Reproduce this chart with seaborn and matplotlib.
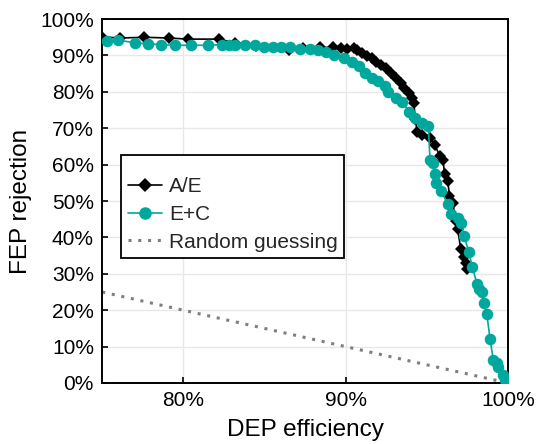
import matplotlib
matplotlib.use("Agg")
import matplotlib.pyplot as plt
from matplotlib.ticker import PercentFormatter, FixedLocator
from matplotlib.lines import Line2D
import seaborn as sns

# ---- data (percent) ----
ae_eff = [75.0, 76.1, 77.6, 79.1, 80.3, 82.2, 83.2, 84.5, 86.5, 87.4,
          88.4, 89.2, 89.7, 90.1, 90.5, 90.7, 91.0, 91.3, 91.6, 91.9,
          92.2, 92.5, 92.8, 93.1, 93.4, 93.6, 93.9, 94.1, 94.2, 94.3,
          94.4, 94.7, 95.2, 95.5, 95.8, 96.0, 96.1, 96.3, 96.4, 96.6,
          96.8, 96.9, 97.1, 97.3, 97.4, 97.5]
ae_rej = [95.1, 94.8, 95.0, 94.8, 94.5, 94.5, 93.5, 92.6, 91.4, 92.1,
          92.2, 92.2, 92.0, 91.7, 92.0, 91.4, 90.6, 89.9, 89.2, 88.3,
          87.4, 86.5, 85.2, 83.8, 82.4, 81.0, 79.7, 78.3, 77.0, 72.5,
          69.1, 68.2, 67.3, 65.5, 62.3, 61.4, 57.5, 55.5, 51.4, 49.5,
          44.5, 42.3, 36.8, 34.5, 33.0, 31.3]

ec_eff = [75.3, 76.0, 77.0, 77.8, 78.6, 79.5, 80.5, 81.5, 82.4, 82.8,
          83.2, 83.8, 84.4, 85.0, 85.5, 86.0, 86.6, 87.2, 87.8, 88.3,
          88.8, 89.3, 89.9, 90.4, 90.8, 91.2, 91.6, 92.0, 92.4, 92.6,
          93.1, 93.5, 93.9, 94.3, 94.7, 95.1, 95.2, 95.4, 95.5, 95.6,
          95.9, 96.3, 96.5, 96.9, 97.1, 97.3, 97.6, 97.8, 98.1, 98.2,
          98.4, 98.5, 98.7, 98.9, 99.1, 99.3, 99.4, 99.7, 99.8]
ec_rej = [94.0, 94.2, 93.5, 93.2, 93.0, 92.8, 92.8, 92.8, 93.0, 93.0,
          93.0, 92.8, 92.8, 92.3, 92.3, 92.3, 92.3, 91.9, 91.9, 91.4,
          91.0, 90.1, 89.2, 88.3, 87.0, 85.2, 83.8, 82.9, 81.5, 80.1,
          78.3, 77.2, 74.6, 72.8, 71.4, 70.5, 61.4, 60.5, 57.3, 55.0,
          52.7, 49.1, 46.4, 45.4, 44.1, 40.4, 35.9, 32.0, 27.2, 25.9,
          24.9, 21.9, 19.0, 12.2, 6.3, 5.4, 4.5, 2.2, 0.8]

rand_eff = [75.0, 100.0]
rand_rej = [25.0, 0.0]

x_ticks = [80, 90, 100]
y_ticks = [0, 10, 20, 30, 40, 50, 60, 70, 80, 90, 100]

TEAL = "#00A79C"
GRAY = "#7f7f7f"
DOTS = (0, (1, 2.2))

sns.set_style("whitegrid")
plt.rcParams["font.family"] = ["Liberation Sans", "DejaVu Sans"]

fig = plt.figure(figsize=(5.38, 4.44), dpi=100)
ax = fig.add_axes([0.19, 0.1374, 0.754, 0.8196])

sns.lineplot(x=rand_eff, y=rand_rej, ax=ax, color=GRAY, linestyle=DOTS,
             linewidth=2.2, sort=False, zorder=2)
sns.lineplot(x=ae_eff, y=ae_rej, ax=ax, color="black", marker="D", markersize=6.3,
             markeredgewidth=0, linewidth=1.2, sort=False, zorder=3)
sns.lineplot(x=ec_eff, y=ec_rej, ax=ax, color=TEAL, marker="o", markersize=8.3,
             markeredgewidth=0, linewidth=1.2, sort=False, zorder=4)

ax.set_xlim(75, 100)
ax.set_ylim(0, 100)
ax.xaxis.set_major_locator(FixedLocator(x_ticks))
ax.yaxis.set_major_locator(FixedLocator(y_ticks))
ax.xaxis.set_major_formatter(PercentFormatter(decimals=0))
ax.yaxis.set_major_formatter(PercentFormatter(decimals=0))

ax.grid(True, color="#e8e8e8", linewidth=1.0)
for s in ax.spines.values():
    s.set_visible(True)
    s.set_color("black")
    s.set_linewidth(1.4)
ax.tick_params(axis="both", direction="in", length=4, width=1.2, color="black",
               labelsize=15, labelcolor="black", left=True, bottom=True, pad=6)
ax.set_xlabel("DEP efficiency", fontsize=17.5, color="black", labelpad=6)
ax.set_ylabel("FEP rejection", fontsize=17.5, color="black", labelpad=6)

handles = [
    Line2D([], [], color="black", marker="D", markersize=7.5, markeredgewidth=0, linewidth=1.2),
    Line2D([], [], color=TEAL, marker="o", markersize=9, markeredgewidth=0, linewidth=1.2),
    Line2D([], [], color=GRAY, linestyle=DOTS, linewidth=2.2),
]
leg = ax.legend(handles, ["A/E", "E+C", "Random guessing"], loc="upper left",
                bbox_to_anchor=(0.047, 0.626), borderaxespad=0, fontsize=15,
                title=" ", title_fontsize=6,
                frameon=True, fancybox=False, framealpha=1, edgecolor="black",
                borderpad=0.3, labelspacing=0.42, handlelength=1.65, handletextpad=0.35)
leg.get_frame().set_linewidth(1.3)

fig.savefig("out.png", dpi=100)
